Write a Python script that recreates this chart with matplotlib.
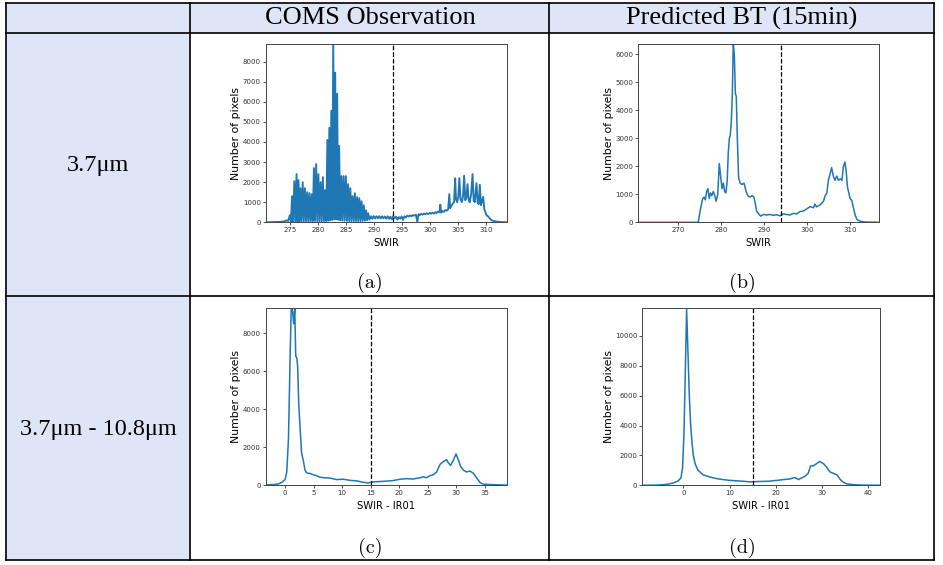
import numpy as np
import matplotlib.pyplot as plt
from matplotlib.patches import Rectangle

# ---- data (x, count) ----
obs_swir = np.array([
    (270.7, 0), (272.0, 10), (273.0, 20), (274.0, 40), (274.4, 100), (274.7, 60),
    (275.0, 350), (275.2, 20), (275.4, 1300), (275.6, 30), (275.8, 2050), (276.0, 40),
    (276.2, 2400), (276.38, 40), (276.55, 2100), (276.72, 50), (276.9, 1700), (277.1, 50),
    (277.3, 2000), (277.5, 50), (277.7, 1700), (277.9, 50), (278.1, 1500), (278.3, 50),
    (278.5, 1450), (278.7, 40), (278.9, 1400), (279.1, 60), (279.3, 2700), (279.5, 60),
    (279.7, 2900), (279.9, 60), (280.1, 2400), (280.3, 50), (280.5, 2000), (280.7, 50),
    (280.9, 2250), (281.1, 60), (281.3, 1600), (281.5, 60), (281.7, 4100), (281.88, 80),
    (282.05, 4700), (282.22, 100), (282.4, 5550), (282.58, 120), (282.75, 9200), (282.92, 150),
    (283.1, 7450), (283.28, 150), (283.45, 6400), (283.62, 120), (283.8, 3800), (284.0, 100),
    (284.2, 2300), (284.4, 80), (284.6, 2300), (284.8, 80), (285.0, 2300), (285.2, 70),
    (285.4, 1900), (285.6, 60), (285.8, 1700), (286.0, 60), (286.2, 1300), (286.4, 60),
    (286.6, 1450), (286.8, 60), (287.0, 1250), (287.2, 60), (287.4, 1200), (287.6, 60),
    (287.8, 1050), (288.0, 70), (288.2, 850), (288.4, 80), (288.6, 600), (288.8, 100),
    (289.0, 450), (289.2, 140), (289.45, 300), (289.7, 170), (289.95, 310), (290.2, 190),
    (290.45, 300), (290.7, 200), (290.95, 310), (291.2, 190), (291.45, 300), (291.7, 200),
    (291.95, 290), (292.2, 180), (292.45, 300), (292.7, 170), (292.95, 280), (293.2, 150),
    (293.45, 300), (293.7, 200), (293.95, 280), (294.2, 130), (294.45, 260), (294.7, 180),
    (294.95, 290), (295.2, 120), (295.45, 300), (295.7, 240), (295.95, 330), (296.2, 290),
    (296.45, 340), (296.7, 300), (296.95, 360), (297.2, 330), (297.5, 380), (297.75, 20),
    (297.95, 400), (298.2, 360), (298.45, 420), (298.7, 380), (298.95, 440), (299.2, 400),
    (299.45, 450), (299.7, 410), (299.95, 470), (300.2, 430), (300.45, 480), (300.7, 440),
    (300.95, 500), (301.2, 460), (301.45, 530), (301.7, 500), (301.85, 880), (302.0, 480),
    (302.25, 560), (302.5, 520), (302.75, 610), (303.0, 580), (303.25, 650), (303.45, 1400),
    (303.6, 700), (303.85, 820), (304.1, 950), (304.3, 1000), (304.5, 2190), (304.65, 1150),
    (304.85, 1000), (305.05, 1250), (305.25, 2200), (305.45, 1150), (305.7, 1000), (305.9, 1300),
    (306.1, 2320), (306.3, 1100), (306.5, 1250), (306.7, 1900), (306.9, 1100), (307.1, 1000),
    (307.35, 1400), (307.6, 2400), (307.8, 1100), (308.0, 1000), (308.3, 1950), (308.5, 1000),
    (308.7, 900), (308.9, 1870), (309.1, 850), (309.3, 1050), (309.5, 1270), (309.7, 650),
    (309.9, 500), (310.1, 350), (310.35, 300), (310.6, 220), (310.9, 120), (311.3, 70),
    (311.8, 40), (312.5, 15), (313.2, 5), (313.8, 0),
])

pred_swir = np.array([
    (260.7, 0), (270.0, 0), (274.66, 0), (275.2, 500), (275.7, 850), (276.0, 900),
    (276.3, 800), (276.6, 1100), (276.9, 1200), (277.2, 850), (277.5, 1050), (277.8, 950),
    (278.15, 1100), (278.5, 950), (278.8, 750), (279.2, 1000), (279.55, 2100), (279.9, 1600),
    (280.2, 1200), (280.5, 1400), (280.8, 1100), (281.1, 1050), (281.4, 1500), (281.65, 2500),
    (281.9, 3000), (282.1, 3100), (282.35, 3600), (282.6, 4600), (282.8, 6400), (283.05, 6000),
    (283.3, 4600), (283.5, 4500), (283.75, 3000), (284.05, 1600), (284.4, 1400), (284.8, 1350),
    (285.3, 1400), (285.8, 1100), (286.2, 950), (286.7, 900), (287.2, 950), (287.6, 900),
    (287.9, 700), (288.25, 400), (288.7, 300), (289.2, 220), (289.8, 280), (290.6, 260),
    (291.4, 280), (292.1, 250), (292.9, 270), (293.7, 230), (294.5, 300), (295.2, 280),
    (296.0, 260), (296.8, 320), (297.6, 300), (298.3, 380), (299.1, 400), (299.9, 480),
    (300.7, 560), (301.5, 520), (301.8, 650), (302.2, 550), (303.0, 620), (303.8, 750),
    (304.2, 950), (304.6, 1050), (304.95, 1500), (305.3, 1700), (305.7, 1950), (306.1, 1650),
    (306.5, 1500), (306.9, 1650), (307.3, 1500), (307.7, 1550), (308.1, 1500), (308.45, 2000),
    (308.8, 2150), (309.1, 1800), (309.4, 1250), (309.7, 1050), (310.0, 850), (310.4, 780),
    (310.8, 500), (311.2, 250), (311.6, 100), (312.3, 40), (313.5, 10), (316.8, 0),
])

obs_diff = np.array([
    (-3.4, 20), (-2.0, 40), (-1.2, 70), (-0.6, 150), (0.0, 300), (0.3, 700), (0.6, 2500),
    (0.9, 7000), (1.1, 9500), (1.35, 9100), (1.5, 8500), (1.7, 9300), (1.87, 6800),
    (2.05, 6700), (2.2, 6300), (2.4, 4300), (2.6, 3200), (2.9, 1700), (3.2, 1300),
    (3.5, 800), (3.8, 650), (4.4, 620), (5.0, 550), (5.55, 500), (6.1, 430), (6.7, 400),
    (7.9, 380), (9.05, 300), (10.2, 320), (11.4, 260), (12.6, 230), (13.7, 160),
    (14.6, 120), (15.5, 180), (16.7, 200), (17.8, 220), (19.0, 250), (20.2, 320),
    (21.3, 350), (22.5, 330), (23.7, 400), (24.25, 450), (24.8, 400), (25.4, 500),
    (26.0, 550), (26.6, 700), (27.2, 1100), (27.8, 1250), (28.35, 1350), (28.6, 1200),
    (29.05, 1050), (29.5, 1300), (30.0, 1650), (30.4, 1350), (30.8, 1000), (31.3, 800),
    (31.85, 700), (32.4, 750), (33.0, 650), (33.6, 400), (34.2, 150), (34.8, 60),
    (35.9, 40), (39.0, 10),
])

pred_diff = np.array([
    (-8.9, 0), (-5.8, 10), (-3.6, 60), (-2.2, 150), (-1.1, 300), (-0.5, 500), (-0.15, 1200),
    (0.15, 3500), (0.43, 7500), (0.72, 11800), (1.0, 9000), (1.3, 6000), (1.6, 4000),
    (1.9, 2800), (2.16, 2000), (2.6, 1400), (3.2, 1000), (4.3, 700), (5.8, 550), (7.2, 450),
    (8.65, 380), (10.1, 330), (11.5, 300), (13.0, 270), (14.4, 230), (15.9, 250),
    (17.3, 260), (18.7, 280), (20.2, 330), (21.6, 380), (23.1, 430), (24.1, 520),
    (24.9, 380), (25.6, 500), (26.3, 600), (27.0, 800), (27.5, 1300), (28.1, 1300),
    (28.8, 1450), (29.5, 1600), (30.3, 1450), (31.0, 1200), (31.7, 900), (32.4, 800),
    (33.2, 700), (33.9, 400), (34.6, 200), (35.3, 100), (36.8, 40), (38.9, 10), (42.45, 5),
])

col_titles = ["COMS Observation", "Predicted BT (15min)"]
row_titles = ["3.7μm", "3.7μm - 10.8μm"]
panel_tags = ["(a)", "(b)", "(c)", "(d)"]

W, H = 943, 565
fig = plt.figure(figsize=(W / 100, H / 100), dpi=100)


def box(l, t, r, b):
    return [l / W, 1 - b / H, (r - l) / W, (b - t) / H]


# table background / grid in pixel space
bg = fig.add_axes([0, 0, 1, 1])
bg.set_xlim(0, W)
bg.set_ylim(H, 0)
bg.axis("off")
fill = "#dee5f7"
bg.add_patch(Rectangle((6, 3), 928, 29.5, fc=fill, ec="none"))
bg.add_patch(Rectangle((6, 32.5), 184, 527.5, fc=fill, ec="none"))
lw_tab = 1.2
for y in (3, 32.5, 296, 560):
    bg.plot([6, 934], [y, y], color="k", lw=lw_tab, solid_capstyle="projecting")
for x in (6, 190, 549, 934):
    bg.plot([x, x], [3, 560], color="k", lw=lw_tab, solid_capstyle="projecting")

serif = ["Liberation Serif", "DejaVu Serif"]
bg.text(370, 18, col_titles[0], ha="center", va="center", family=serif, fontsize=19)
bg.text(742, 18, col_titles[1], ha="center", va="center", family=serif, fontsize=19)
bg.text(98, 165, row_titles[0], ha="center", va="center", family=serif, fontsize=17.5)
bg.text(98, 430, row_titles[1], ha="center", va="center", family=serif, fontsize=17.5)
for (x, y), tag in zip([(370, 283), (742, 283), (370, 548), (742, 548)], panel_tags):
    bg.text(x, y, tag, ha="center", va="center", family="cmr10", fontsize=14.5)


def panel(rect, data, xlim, ylim, xticks, yticks, vline, xlabel, ylab_off, lw=1.1):
    l, t, r, b = rect
    ax = fig.add_axes(box(*rect))
    ax.plot(data[:, 0], data[:, 1], color="#1f77b4", lw=lw)
    ax.axvline(vline, color="k", ls="--", lw=0.9)
    ax.set_xlim(*xlim)
    ax.set_ylim(*ylim)
    ax.set_xticks(xticks)
    ax.set_yticks(yticks)
    ax.tick_params(labelsize=5, length=2, width=0.6, pad=1.5, colors="#333333")
    for s in ax.spines.values():
        s.set_linewidth(0.7)
        s.set_color("#444444")
    ax.set_xlabel(xlabel, fontsize=7.2)
    ax.set_ylabel("Number of pixels", fontsize=7.8)
    ax.xaxis.label.set_va("center")
    ax.yaxis.label.set_va("center")
    ax.xaxis.set_label_coords(0.5, -21 / (b - t))
    ax.yaxis.set_label_coords(-ylab_off / (r - l), 0.5)
    return ax


panel((265.7, 44.3, 507.3, 222.3), obs_swir, (270.7, 313.8), (0, 8863),
      range(275, 311, 5), range(0, 8001, 1000), 293.45, "SWIR", 30, lw=1.35)
panel((638.3, 44.3, 879.3, 222.3), pred_swir, (260.7, 316.8), (0, 6357),
      range(270, 311, 10), range(0, 6001, 1000), 294.0, "SWIR", 29)
panel((265.7, 308.3, 507.3, 485.3), obs_diff, (-3.4, 39.0), (0, 9316),
      range(0, 36, 5), range(0, 8001, 2000), 15, "SWIR - IR01", 30)
panel((642.3, 308.3, 879.7, 485.3), pred_diff, (-8.86, 42.45), (0, 11853),
      range(0, 41, 10), range(0, 10001, 2000), 15, "SWIR - IR01", 33)

fig.savefig("out.png", dpi=100)
